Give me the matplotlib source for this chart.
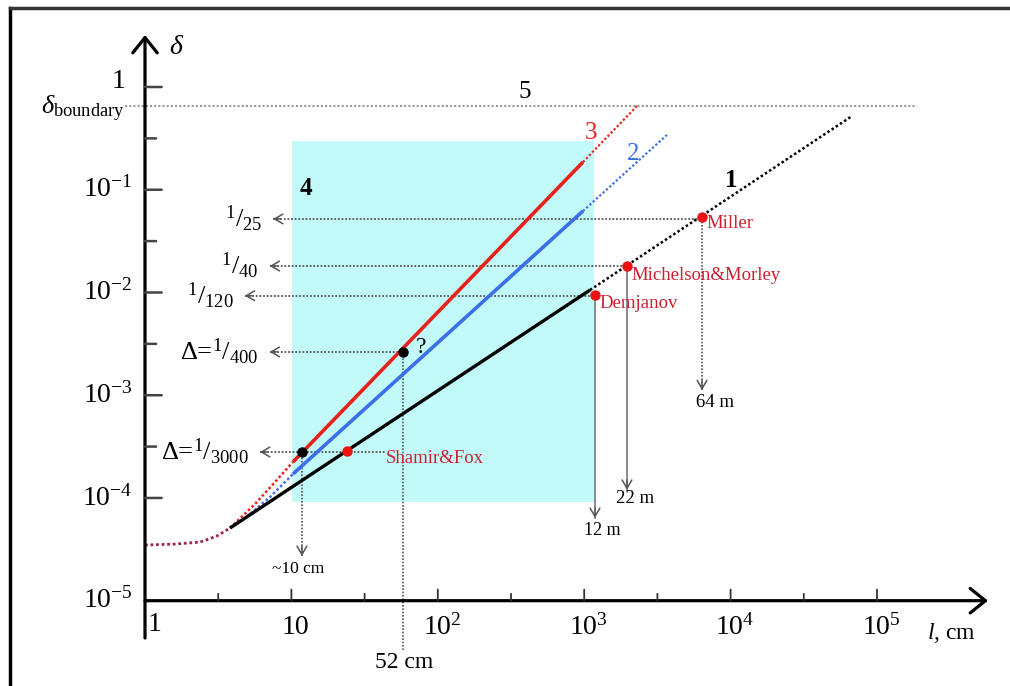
import numpy as np
import matplotlib.pyplot as plt
from matplotlib.patches import Rectangle
from matplotlib.lines import Line2D

plt.rcParams['font.family'] = ['Liberation Serif', 'DejaVu Serif']
plt.rcParams['mathtext.fontset'] = 'custom'
plt.rcParams['mathtext.rm'] = 'Liberation Serif'
plt.rcParams['mathtext.it'] = 'Liberation Serif:italic'
plt.rcParams['mathtext.bf'] = 'Liberation Serif:bold'

# --- values (l in cm, delta dimensionless) ---
knee_l = [1.0, 1.6, 2.38, 3.10, 3.81]
knee_d = [3.48e-5, 3.56e-5, 3.72e-5, 4.26e-5, 5.10e-5]

red_knee_l = [3.81, 5.64, 7.73, 10.25]
red_knee_d = [5.10e-5, 8.73e-5, 1.43e-4, 2.24e-4]
red_l = [10.25, 981]
red_d = [2.24e-4, 0.186]
red_ext_l = [981, 2295]
red_ext_d = [0.186, 0.653]

blue_knee_l = [3.81, 5.22, 7.14, 10.25]
blue_knee_d = [5.10e-5, 6.98e-5, 1.02e-4, 1.71e-4]
blue_l = [10.25, 981]
blue_d = [1.71e-4, 0.0621]
blue_ext_l = [981, 3735]
blue_ext_d = [0.0621, 0.349]

black_l = [3.81, 1096]
black_d = [5.10e-5, 0.01057]
black_ext_l = [1096, 67500]
black_ext_d = [0.01057, 0.522]

delta_boundary = 0.653
boundary_l = [0.73, 187600]

region_l = [10.1, 1166]
region_d = [9.14e-5, 0.298]

exp_names = ['Miller', 'Michelson&Morley', 'Demjanov', 'Shamir&Fox']
exp_l = [6380, 1960, 1185, 24.0]
exp_d = [0.0543, 0.0181, 0.00946, 2.86e-4]

marked_l = [11.8, 57.9]
marked_d = [2.80e-4, 2.64e-3]

frac_labels = [r'$^{1}/_{25}$', r'$^{1}/_{40}$', r'$^{1}/_{120}$',
               r'Δ=$^{1}/_{400}$', r'Δ=$^{1}/_{3000}$']
frac_d = [0.052, 0.0181, 0.0093, 2.64e-3, 2.80e-4]
frac_tip_l = [7.5, 7.1, 4.8, 7.1, 6.1]
frac_start_l = [6380, 1960, 1185, 57.9, 43.6]

drop_labels = ['~10 cm', '52 cm', '12 m', '22 m', '64 m']
drop_l = [11.8, 57.9, 1185, 1960, 6380]
drop_top = [2.80e-4, 2.64e-3, 0.00946, 0.0181, 0.0543]
drop_bottom = [2.72e-5, 3.31e-6, 6.38e-5, 1.2e-4, 1.12e-3]

xtick_major = [10, 1e2, 1e3, 1e4, 1e5]
xtick_labels = ['10', r'$10^{2}$', r'$10^{3}$', r'$10^{4}$', r'$10^{5}$']
xtick_minor = [10**0.5, 10**1.5, 10**2.5, 10**3.5, 10**4.5]
ytick_major = [1, 1e-1, 1e-2, 1e-3, 1e-4, 1e-5]
ytick_labels = ['1', r'$10^{-1}$', r'$10^{-2}$', r'$10^{-3}$', r'$10^{-4}$', r'$10^{-5}$']
ytick_minor = [10**-0.5, 10**-1.5, 10**-2.5, 10**-3.5]

# --- layout: pixel scale of the drawing ---
W, H = 1010, 686
X0, XDEC = 145.0, 146.4   # pixel of l=1, pixels per decade
Y0, YDEC = 87.0, 102.74   # pixel of delta=1, pixels per decade

fig = plt.figure(figsize=(W / 100, H / 100), dpi=100)
ax = fig.add_axes([0, 0, 1, 1])
ax.set_xscale('log')
ax.set_yscale('log')
ax.set_xlim(10 ** (-X0 / XDEC), 10 ** ((W - X0) / XDEC))
ax.set_ylim(10 ** ((Y0 - H) / YDEC), 10 ** (Y0 / YDEC))
ax.axis('off')

RED = '#e8201a'
BLUE = '#3a6fe8'
TXT_RED = '#cc2030'
GREY = '#555555'
dots = (0, (1, 1))

# region 4
ax.add_patch(Rectangle((region_l[0], region_d[0]), region_l[1] - region_l[0],
                       region_d[1] - region_d[0], color='#c2fafa', lw=0, zorder=0))

# line 5 (boundary)
ax.plot(boundary_l, [delta_boundary] * 2, color='#999999', lw=1.5, ls=dots, zorder=1)

# curves
ax.plot(knee_l, knee_d, color='#a02050', lw=2, ls=dots, zorder=3)
ax.plot(red_knee_l, red_knee_d, color=RED, lw=1.8, ls=dots, zorder=3)
ax.plot(blue_knee_l, blue_knee_d, color=BLUE, lw=1.8, ls=dots, zorder=3)
ax.plot(black_l, black_d, color='black', lw=2.4, solid_capstyle='butt', zorder=4)
ax.plot(black_ext_l, black_ext_d, color='black', lw=1.8, ls=dots, zorder=4)
ax.plot(blue_l, blue_d, color=BLUE, lw=2.6, solid_capstyle='butt', zorder=4)
ax.plot(blue_ext_l, blue_ext_d, color=BLUE, lw=1.6, ls=dots, zorder=4)
ax.plot(red_l, red_d, color=RED, lw=2.6, solid_capstyle='butt', zorder=4)
ax.plot(red_ext_l, red_ext_d, color=RED, lw=1.6, ls=dots, zorder=4)

# horizontal dotted arrows to the delta axis
small_head = dict(arrowstyle='->,head_length=0.6,head_width=0.35', color=GREY, lw=1.1,
                  mutation_scale=10, shrinkA=0, shrinkB=0)
for lab, d, tip, start in zip(frac_labels, frac_d, frac_tip_l, frac_start_l):
    ax.plot([tip, start], [d, d], color=GREY, lw=1.3, ls=dots, zorder=2)
    ax.annotate('', xy=(tip, d), xytext=(tip * 1.12, d), arrowprops=small_head, zorder=2)
    ax.annotate(lab, xy=(tip, d), xytext=(-8, 0), textcoords='offset points',
                ha='right', va='center', fontsize=19)

# vertical drops to the l axis
drop_solid = [False, False, True, True, False]
drop_arrow = [True, False, True, True, True]
drop_offsets = [(-3, -9), (1, -9), (5, -9), (6, -6), (9, -9)]
drop_sizes = [12.5, 17, 13, 13.5, 13.5]
for i in range(len(drop_l)):
    ls = '-' if drop_solid[i] else dots
    ax.plot([drop_l[i]] * 2, [drop_bottom[i], drop_top[i]], color='#777777' if drop_solid[i] else GREY,
            lw=1.2, ls=ls, zorder=2)
    if drop_arrow[i]:
        ax.annotate('', xy=(drop_l[i], drop_bottom[i]), xytext=(drop_l[i], drop_bottom[i] * 1.25),
                    arrowprops=small_head, zorder=2)
    ax.annotate(drop_labels[i], xy=(drop_l[i], drop_bottom[i]), xytext=drop_offsets[i],
                textcoords='offset points', ha='center', va='center', fontsize=drop_sizes[i])

# experiments
ax.plot(exp_l, exp_d, 'o', color='#ee1111', ms=6.5, zorder=6)
exp_offsets = [(3.5, -5), (3.5, -6.5), (3.5, -6), (28, -5)]
for name, l, d, off in zip(exp_names, exp_l, exp_d, exp_offsets):
    ax.annotate(name, xy=(l, d), xytext=off, textcoords='offset points',
                ha='left', va='center', color=TXT_RED, fontsize=13.5)

ax.plot(marked_l, marked_d, 'o', color='black', ms=6.5, zorder=6)
ax.annotate('?', xy=(marked_l[1], marked_d[1]), xytext=(13, 3), textcoords='offset points',
            ha='center', va='center', fontsize=17)

# axes with arrows
axis_head = dict(arrowstyle='->,head_length=0.5,head_width=0.4', color='black', lw=2.3,
                 mutation_scale=22, shrinkA=0, shrinkB=0)
ax.annotate('', xy=(10 ** (843 / XDEC), 1e-5), xytext=(1.0, 1e-5), arrowprops=axis_head)
ax.annotate('', xy=(1.0, 10 ** (52 / YDEC)), xytext=(1.0, 10 ** (-5.363)), arrowprops=axis_head)

# ticks
for t in xtick_major:
    ax.annotate('', xy=(t, 1e-5), xytext=(0, 8), textcoords='offset points',
                arrowprops=dict(arrowstyle='-', color='#333333', lw=1.3, shrinkA=0, shrinkB=0))
for t in xtick_minor:
    ax.annotate('', xy=(t, 1e-5), xytext=(0, 5), textcoords='offset points',
                arrowprops=dict(arrowstyle='-', color='#333333', lw=1.3, shrinkA=0, shrinkB=0))
for t in ytick_major[:-1]:
    ax.annotate('', xy=(1.0, t), xytext=(12, 0), textcoords='offset points',
                arrowprops=dict(arrowstyle='-', color='#444444', lw=1.8, shrinkA=0, shrinkB=0))
for t in ytick_minor:
    ax.annotate('', xy=(1.0, t), xytext=(8, 0), textcoords='offset points',
                arrowprops=dict(arrowstyle='-', color='#444444', lw=1.8, shrinkA=0, shrinkB=0))

for t, lab in zip(ytick_major, ytick_labels):
    ax.annotate(lab, xy=(1.0, t), xytext=(-14 if lab == '1' else -9, 4 if lab == '1' else 0),
                textcoords='offset points', ha='right', va='center', fontsize=20)
ax.annotate('1', xy=(1.0, 1e-5), xytext=(2, -17), textcoords='offset points',
            ha='left', va='center', fontsize=20)
for t, lab in zip(xtick_major, xtick_labels):
    ax.annotate(lab, xy=(t, 1e-5), xytext=(3, -19), textcoords='offset points',
                ha='center', va='center', fontsize=20)
ax.annotate(r'$l$, cm', xy=(10 ** (843 / XDEC), 1e-5), xytext=(-26, -23),
            textcoords='offset points', ha='center', va='center', fontsize=17)
ax.annotate(r'$\delta$', xy=(1.0, 10 ** (52 / YDEC)), xytext=(17, -9),
            textcoords='offset points', ha='left', va='center', fontsize=20)
ax.annotate(r'$\delta_{\mathrm{boundary}}$', xy=(boundary_l[0], delta_boundary), xytext=(0, -2),
            textcoords='offset points', ha='right', va='center', fontsize=19)

# curve / region labels
ax.annotate('5', xy=(394, delta_boundary), xytext=(0, 10), textcoords='offset points',
            ha='center', va='center', fontsize=18)
ax.annotate('3', xy=(red_ext_l[0], red_ext_d[0]), xytext=(6, 21), textcoords='offset points',
            ha='center', va='center', fontsize=18, color=RED)
ax.annotate('2', xy=(blue_ext_l[0], blue_ext_d[0]), xytext=(36, 41), textcoords='offset points',
            ha='center', va='center', fontsize=18, color=BLUE)
ax.annotate('1', xy=(exp_l[0], exp_d[0]), xytext=(21, 26), textcoords='offset points',
            ha='center', va='center', fontsize=18, fontweight='bold')
ax.annotate('4', xy=(region_l[0], region_d[1]), xytext=(10, -34), textcoords='offset points',
            ha='center', va='center', fontsize=18, fontweight='bold')

# picture frame (cropped: only top and left edges visible)
fig.add_artist(Line2D([10 / W, 10 / W], [0, 1 - 8 / H], transform=fig.transFigure,
                      color='black', lw=2.5))
fig.add_artist(Line2D([10 / W, 1], [1 - 8 / H, 1 - 8 / H], transform=fig.transFigure,
                      color='#333333', lw=2.5))

fig.savefig('out.png', dpi=100)
